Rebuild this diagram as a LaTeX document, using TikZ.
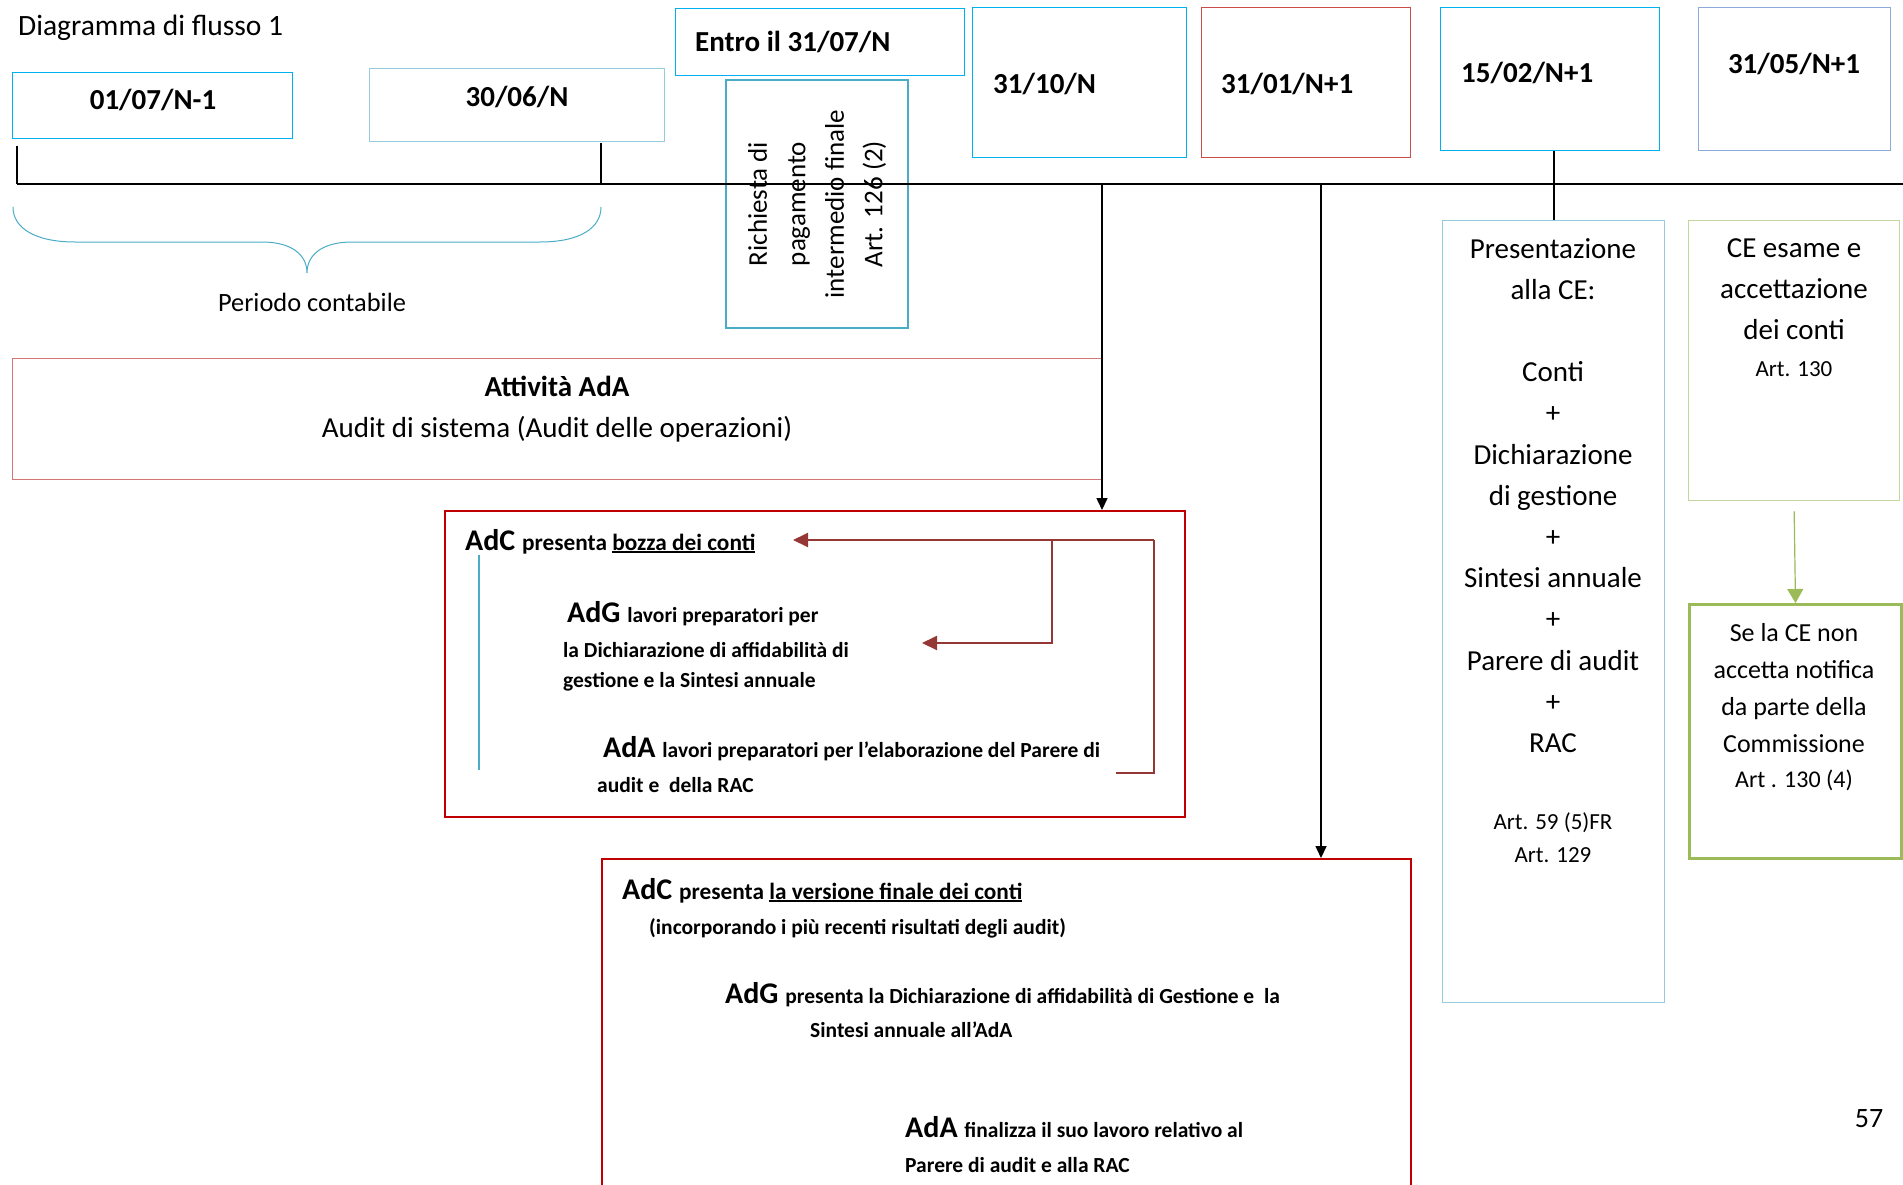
\documentclass[tikz,border=0pt]{standalone}
\usepackage{fontspec}
\setmainfont{Carlito}
\usepackage{tikz}
\usetikzlibrary{arrows.meta}
\usetikzlibrary{shapes,positioning}
\definecolor{ciano}{HTML}{00B0F0}
\definecolor{cianochiaro}{HTML}{93CDDD}
\definecolor{azzurro}{HTML}{4BACC6}
\definecolor{lavanda}{HTML}{8EAADB}
\definecolor{rosso}{HTML}{C00000}
\definecolor{rosa}{HTML}{D27776}
\definecolor{rosascuro}{HTML}{CC4C4C}
\definecolor{bordeaux}{HTML}{953735}
\definecolor{verde}{HTML}{9BBB59}
\definecolor{verdechiaro}{HTML}{C3D69B}
\colorlet{background}{white}
\newcommand{\grande}{\bfseries\fontsize{30}{36}\selectfont}
\newcommand{\medio}{\bfseries\fontsize{23.3}{28}\selectfont}
\newcommand{\piccolo}{\bfseries\fontsize{21.5}{26}\selectfont}
\newsavebox{\sottobox}
\newcommand{\sottolinea}[1]{\sbox{\sottobox}{#1}\rlap{\rule[-3pt]{\wd\sottobox}{1.8pt}}\usebox{\sottobox}}
\tikzset{>={Triangle[length=12pt,width=11pt]},
  cornice/.style={draw=ciano,line width=1.3pt,inner sep=0pt,anchor=north west},
  rossobox/.style={cornice,draw=rosso,line width=2.2pt},
  datatxt/.style={inner sep=0pt,font=\bfseries\fontsize{29}{35}\selectfont},
  testo/.style={inner sep=0pt,align=center,font=\fontsize{29}{41.2}\selectfont},
  riga/.style={inner sep=0pt,anchor=base west},
  ritorno/.style={draw=bordeaux,line width=2pt,>={Triangle[length=15pt,width=14pt]}},
  linea/.style={line width=1.6pt}}

\begin{document}
\begin{tikzpicture}[x=1pt,y=-1pt]
    \useasboundingbox (0,0) rectangle (1903,1185);

    \node (titolo) [anchor=west,inner sep=0pt,font=\fontsize{29.5}{35}\selectfont] at (18,28) {Diagramma di flusso 1};

    % date
    \node (d1) [cornice,minimum width=280,minimum height=66] at (12,72) {};
    \node (d2) [cornice,draw=cianochiaro,minimum width=295,minimum height=73] at (369,68) {};
    \node (d3) [cornice,minimum width=289,minimum height=67] at (675,8) {};
    \node (d4) [cornice,minimum width=214,minimum height=150] at (972,7) {};
    \node (d5) [cornice,draw=rosascuro,minimum width=209,minimum height=150] at (1201,7) {};
    \node (d6) [cornice,minimum width=219,minimum height=143] at (1440,7) {};
    \node (d7) [cornice,draw=lavanda,minimum width=192,minimum height=143] at (1698,7) {};

    \node (t1) [datatxt] at (153,100) {01/07/N-1};
    \node (t2) [datatxt] at (517,97) {30/06/N};
    \node (t3) [datatxt,anchor=west] at (695,42) {Entro il 31/07/N};
    \node (t4) [datatxt,anchor=west] at (993,84) {31/10/N};
    \node (t5) [datatxt,anchor=west] at (1221,84) {31/01/N+1};
    \node (t6) [datatxt,anchor=west] at (1461,73) {15/02/N+1};
    \node (t7) [datatxt] at (1794,64) {31/05/N+1};

    \node (rich) [draw=azzurro,line width=1.3pt,rotate=90,minimum width=248,minimum height=182,
      inner sep=0pt,align=center,font=\fontsize{27}{38.5}\selectfont] at (817,204)
      {Richiesta di\\pagamento\\intermedio finale\\Art. 126 (2)};

    % linea del tempo
    \coordinate (inizio) at (17,184);
    \coordinate (fine) at (1903,184);
    \coordinate (c1) at (601,143);
    \coordinate (c2) at (601,184);
    \draw[line width=2.2pt] (inizio) -- (fine);
    \draw[line width=2.6pt] (17,146) -- (inizio);
    \draw[line width=2pt] (c1) -- (c2);

    \draw[azzurro,line width=1pt] (13,207) .. controls (13,228) and (35,242) .. (75,242) -- (262,242)
      .. controls (292,242) and (307,255) .. (307,273) .. controls (307,255) and (322,242) .. (352,242)
      -- (540,242) .. controls (580,242) and (601,228) .. (601,207);
    \node (periodo) [inner sep=0pt,font=\fontsize{26.4}{31}\selectfont] at (312,302) {Periodo contabile};

    % attivita AdA
    \node (ada) [cornice,draw=rosa,line width=1.2pt,minimum width=1090,minimum height=121] at (12,358) {};
    \node (adatxt) [testo] at (557,409) {\textbf{Attività AdA}\\Audit di sistema (Audit delle operazioni)};

    % riquadri AdC
    \node (bozza) [rossobox,minimum width=740,minimum height=306] at (444,510) {};
    \node (finale) [rossobox,minimum width=809,minimum height=400] at (601,858) {};

    \coordinate (v1) at (1102,184);
    \coordinate (v2) at (1321,184);
    \draw[linea,->] (v1) -- (v1 |- bozza.north);
    \draw[linea,->] (v2) -- (v2 |- finale.north);

    \node (r1) [riga] at (465,550) {\grande AdC \medio presenta \sottolinea{bozza dei conti}};
    \node (r2) [riga] at (567,622) {\grande AdG \piccolo lavori preparatori per};
    \node (r3) [riga] at (563,657) {\piccolo la Dichiarazione di affidabilità di};
    \node (r4) [riga] at (563,687) {\piccolo gestione e la Sintesi annuale};
    \node (r5) [riga] at (603,757) {\grande AdA \piccolo lavori preparatori per l’elaborazione del Parere di};
    \node (r6) [riga] at (597,792) {\piccolo audit e\ \ della RAC};
    \draw[azzurro,line width=2pt] (479,555) -- (479,770);

    \coordinate (fbA) at (1154,540);
    \coordinate (fbB) at (1052,540);
    \coordinate (fbC) at (1052,643);
    \coordinate (fbD) at (922,643);
    \coordinate (fbE) at (793,540);
    \coordinate (fbF) at (1154,773);
    \coordinate (fbG) at (1116,773);
    \draw[ritorno,->] (fbA) -- (fbE);
    \draw[ritorno,->] (fbB) -- (fbC) -- (fbD);
    \draw[ritorno] (fbA) -- (fbF) -- (fbG);

    \node (s1) [riga] at (622,899) {\grande AdC \medio presenta \sottolinea{la versione finale dei conti}};
    \node (s2) [riga] at (649,934) {\piccolo (incorporando i più recenti risultati degli audit)};
    \node (s3) [riga] at (725,1003) {\grande AdG \piccolo presenta la Dichiarazione di affidabilità di Gestione e\ \ la};
    \node (s4) [riga] at (810,1037) {\piccolo Sintesi annuale all’AdA};
    \node (s5) [riga] at (905,1137) {\grande AdA \piccolo finalizza il suo lavoro relativo al};
    \node (s6) [riga] at (905,1172) {\piccolo Parere di audit e alla RAC};

    % presentazione alla CE
    \node (pres) [cornice,draw=cianochiaro,minimum width=222,minimum height=782] at (1442,220) {};
    \draw[line width=2pt] (d6.south -| pres.north) -- (pres.north);
    \node (prestxt) [testo,anchor=north] at (1553,238) {Presentazione\\alla CE:\\[41.2pt]Conti\\+\\Dichiarazione\\di gestione\\+\\Sintesi annuale\\+\\Parere di audit\\+\\RAC};
    \node (art59) [testo,anchor=north,font=\fontsize{23}{33}\selectfont] at (1553,812) {Art. 59 (5)FR\\Art. 129};

    \node (ce) [cornice,draw=verdechiaro,minimum width=211,minimum height=280] at (1688,220) {};
    \node (cetxt) [testo,anchor=north] at (1794,238) {CE esame e\\accettazione\\dei conti};
    \node (art130) [inner sep=0pt,font=\fontsize{23}{28}\selectfont] at (1794,369) {Art. 130};

    \node (nonacc) [cornice,draw=verde,line width=3pt,minimum width=212,minimum height=254] at (1688,603) {};
    \draw[verde,line width=1.2pt,-{Triangle[length=14pt,width=16pt]}] ([yshift=-10pt]ce.south) -- (nonacc.north);
    \node (nonacctxt) [testo,anchor=north,font=\fontsize{26}{37}\selectfont] at (1794,623) {Se la CE non\\accetta notifica\\da parte della\\Commissione};
    \node (art1304) [inner sep=0pt,font=\fontsize{24}{28}\selectfont] at (1794,780) {Art . 130 (4)};

    \node (pagina) [inner sep=0pt,font=\fontsize{28}{32}\selectfont] at (1869,1119) {57};
  \end{tikzpicture}
\end{document}
